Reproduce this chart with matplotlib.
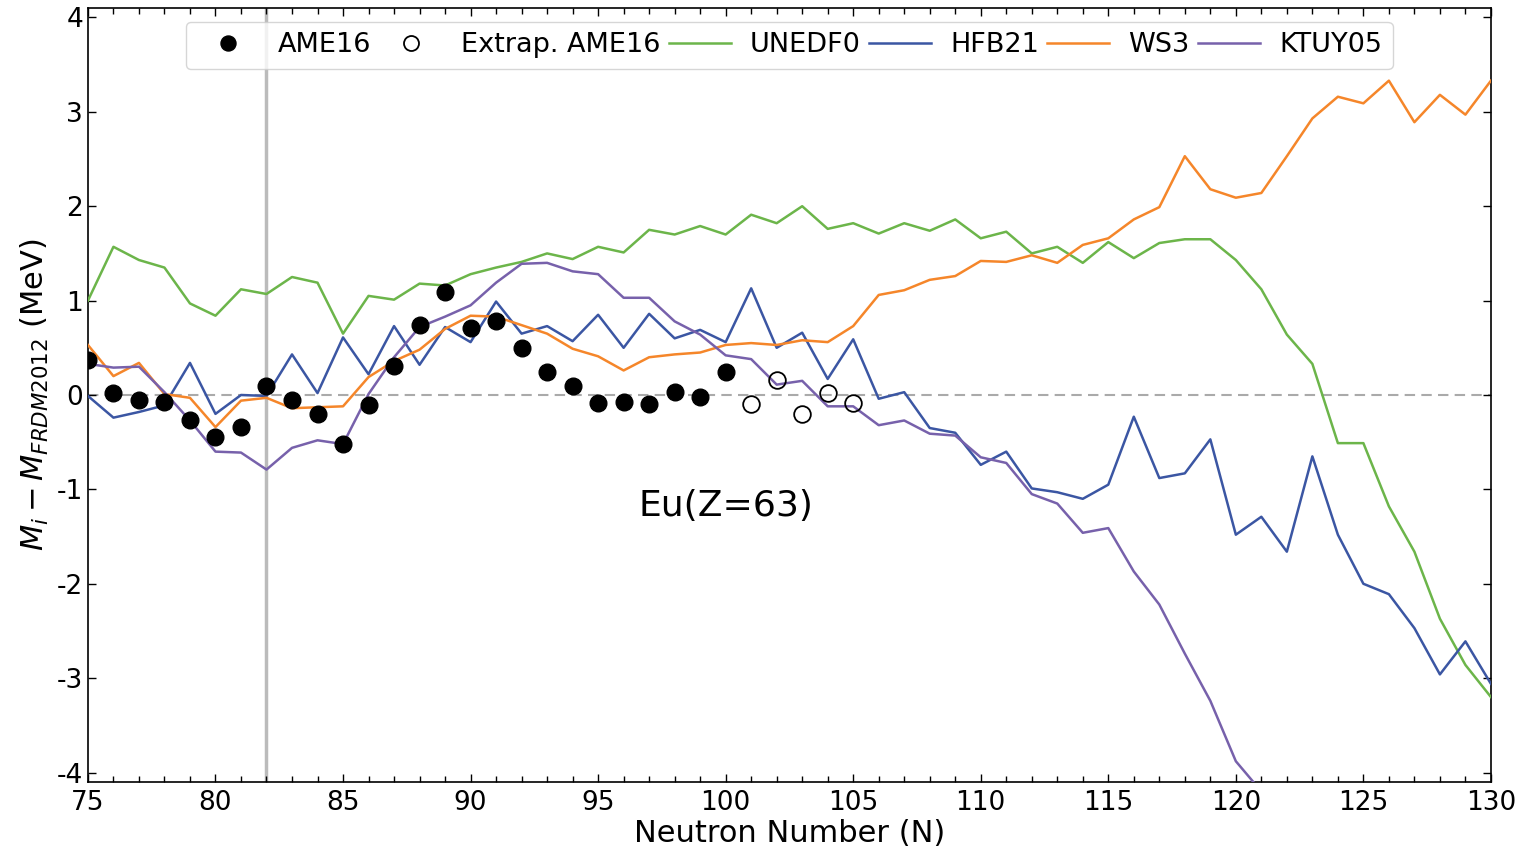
import matplotlib
matplotlib.use("Agg")
import matplotlib.pyplot as plt
import numpy as np

plt.rcParams['font.family'] = ['DejaVu Sans']
plt.rcParams['axes.unicode_minus'] = False

# AME16 measured
ame_N = list(range(75, 101))
ame_v = [0.37, 0.02, -0.05, -0.07, -0.27, -0.44, -0.34, 0.10, -0.05, -0.20,
         -0.52, -0.11, 0.31, 0.74, 1.09, 0.71, 0.78, 0.50, 0.24, 0.09,
         -0.08, -0.07, -0.10, 0.03, -0.02, 0.24]
# AME16 extrapolated
ext_N = [101, 102, 103, 104, 105]
ext_v = [-0.10, 0.16, -0.20, 0.02, -0.08]

N_all = list(range(75, 131))
unedf0 = [1.00, 1.57, 1.43, 1.35, 0.97, 0.84, 1.12, 1.07, 1.25, 1.19,
          0.65, 1.05, 1.01, 1.18, 1.16, 1.28, 1.35, 1.41, 1.50, 1.44,
          1.57, 1.51, 1.75, 1.70, 1.79, 1.70, 1.91, 1.82, 2.00, 1.76,
          1.82, 1.71, 1.82, 1.74, 1.86, 1.66, 1.73, 1.50, 1.57, 1.40,
          1.62, 1.45, 1.61, 1.65, 1.65, 1.43, 1.12, 0.64, 0.33, -0.51,
          -0.51, -1.18, -1.66, -2.37, -2.86, -3.20]
hfb21 = [-0.01, -0.24, -0.18, -0.11, 0.34, -0.20, 0.00, -0.01, 0.43, 0.02,
         0.61, 0.22, 0.73, 0.32, 0.72, 0.56, 0.99, 0.65, 0.73, 0.57,
         0.85, 0.50, 0.86, 0.60, 0.69, 0.56, 1.13, 0.50, 0.66, 0.17,
         0.59, -0.04, 0.03, -0.35, -0.40, -0.74, -0.60, -0.99, -1.03, -1.10,
         -0.95, -0.23, -0.88, -0.83, -0.47, -1.48, -1.29, -1.66, -0.65, -1.48,
         -2.00, -2.11, -2.47, -2.96, -2.61, -3.06]
ws3 = [0.53, 0.20, 0.34, 0.01, -0.03, -0.34, -0.06, -0.03, -0.14, -0.13,
       -0.12, 0.19, 0.36, 0.48, 0.70, 0.84, 0.83, 0.74, 0.65, 0.49,
       0.41, 0.26, 0.40, 0.43, 0.45, 0.53, 0.55, 0.53, 0.58, 0.56,
       0.73, 1.06, 1.11, 1.22, 1.26, 1.42, 1.41, 1.48, 1.40, 1.59,
       1.66, 1.86, 1.99, 2.53, 2.18, 2.09, 2.14, 2.53, 2.93, 3.16,
       3.09, 3.33, 2.89, 3.18, 2.97, 3.33]
ktuy_N = list(range(75, 122))
ktuy05 = [0.33, 0.29, 0.30, 0.03, -0.27, -0.60, -0.61, -0.79, -0.56, -0.48,
          -0.52, 0.01, 0.40, 0.72, 0.83, 0.95, 1.19, 1.39, 1.40, 1.31,
          1.28, 1.03, 1.03, 0.78, 0.64, 0.42, 0.38, 0.11, 0.15, -0.12,
          -0.12, -0.32, -0.27, -0.41, -0.43, -0.66, -0.72, -1.05, -1.15, -1.46,
          -1.41, -1.87, -2.22, -2.74, -3.24, -3.88, -4.20]

c_green = '#6cb54a'
c_blue = '#3b56a3'
c_orange = '#f5862a'
c_purple = '#7761ab'

fig = plt.figure(figsize=(15.24, 8.5), dpi=100)
ax = fig.add_axes([0.0577, 0.08, 0.9206, 0.9106])

ax.axhline(0, color='#aaaaaa', ls=(0, (5, 3)), lw=1.5, zorder=1)
ax.axvline(82, color='#bbbbbb', lw=2.5, zorder=1)

ax.plot(ame_N, ame_v, 'o', color='black', ms=12, ls='none', label='AME16', zorder=5)
ax.plot(ext_N, ext_v, 'o', mfc='none', mec='black', mew=1.3, ms=12, ls='none',
        label='Extrap. AME16', zorder=5)
ax.plot(N_all, unedf0, color=c_green, lw=1.8, label='UNEDF0', zorder=3)
ax.plot(N_all, hfb21, color=c_blue, lw=1.8, label='HFB21', zorder=3)
ax.plot(N_all, ws3, color=c_orange, lw=1.8, label='WS3', zorder=3)
ax.plot(ktuy_N, ktuy05, color=c_purple, lw=1.8, label='KTUY05', zorder=3)

ax.text(100, -1.18, 'Eu(Z=63)', fontsize=26, ha='center', va='center')

ax.set_xlim(75, 130)
ax.set_ylim(-4.1, 4.1)
ax.set_xticks([75, 80, 85, 90, 95, 100, 105, 110, 115, 120, 125, 130])
ax.set_xticks(np.arange(75, 131, 1), minor=True)
ax.set_yticks([-4, -3, -2, -1, 0, 1, 2, 3, 4])
ax.tick_params(which='both', direction='in', top=True, right=True, labelsize=19)
ax.tick_params(which='major', length=6, width=1)
ax.tick_params(which='minor', length=4, width=1)
ax.tick_params(axis='x', pad=6)
for s in ax.spines.values():
    s.set_linewidth(1.2)

ax.set_xlabel('Neutron Number (N)', fontsize=22, labelpad=2)
ax.set_ylabel(r'$M_i - M_{FRDM2012}$ (MeV)', fontsize=22, labelpad=4)

leg = ax.legend(loc='upper center', ncol=6, fontsize=19.5, frameon=True,
                handlelength=2.3, handletextpad=0.7, columnspacing=0.3,
                borderaxespad=0.5, markerscale=0.9, borderpad=0.4)
leg.get_frame().set_edgecolor('#cccccc')

fig.savefig('out.png', dpi=100)
